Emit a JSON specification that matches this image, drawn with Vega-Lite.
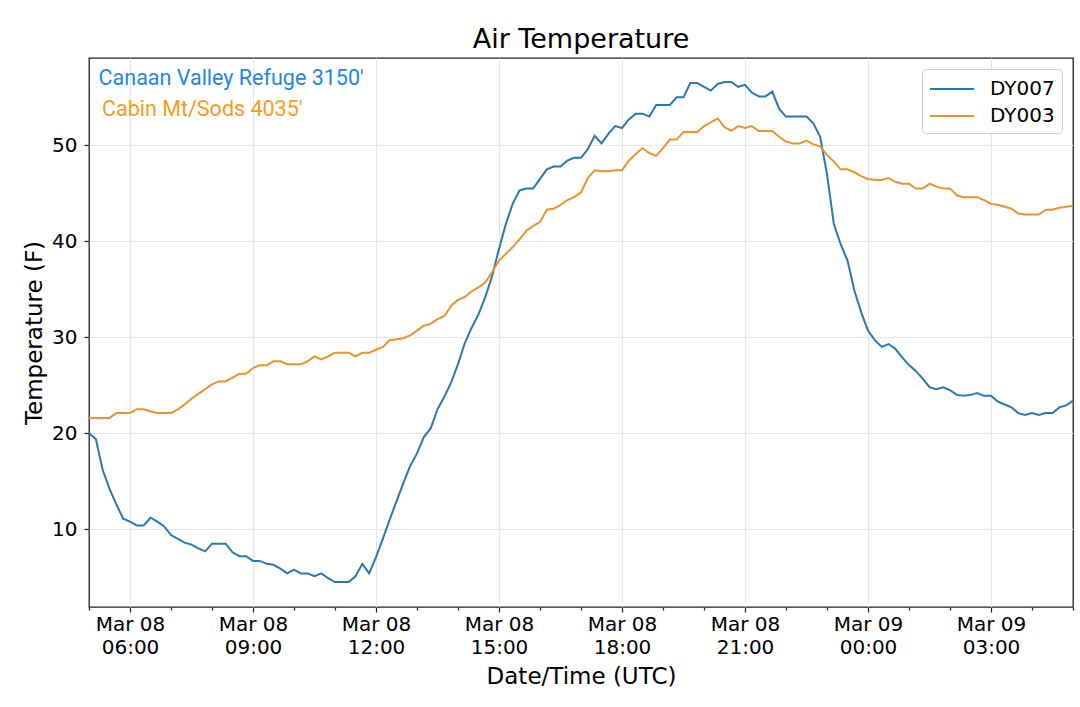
{
  "$schema": "https://vega.github.io/schema/vega-lite/v6.json",
  "width": 984,
  "height": 549,
  "autosize": "none",
  "padding": {"left": 89, "top": 58, "right": 7, "bottom": 100},
  "background": "white",
  "title": {
    "text": "Air Temperature",
    "font": "DejaVu Sans",
    "fontSize": 27,
    "fontWeight": "normal",
    "color": "black",
    "anchor": "middle",
    "offset": 4
  },
  "config": {
    "view": {"stroke": "#222222", "strokeWidth": 1.3},
    "axis": {
      "labelFont": "DejaVu Sans",
      "titleFont": "DejaVu Sans",
      "labelFontSize": 20,
      "titleFontSize": 23,
      "titleFontWeight": "normal",
      "labelColor": "black",
      "titleColor": "black",
      "tickColor": "#222222",
      "tickWidth": 1.2,
      "domain": false,
      "gridColor": "#e6e6e6",
      "gridWidth": 1.1
    }
  },
  "layer": [
    {
      "data": {
        "values": [
          {"time": "2019-03-08T05:00:00Z", "DY007": 20.0, "DY003": 21.6},
          {"time": "2019-03-08T05:10:00Z", "DY007": 19.4, "DY003": 21.6},
          {"time": "2019-03-08T05:20:00Z", "DY007": 16.2, "DY003": 21.6},
          {"time": "2019-03-08T05:30:00Z", "DY007": 14.2, "DY003": 21.6},
          {"time": "2019-03-08T05:40:00Z", "DY007": 12.6, "DY003": 22.1},
          {"time": "2019-03-08T05:50:00Z", "DY007": 11.1, "DY003": 22.1},
          {"time": "2019-03-08T06:00:00Z", "DY007": 10.8, "DY003": 22.1},
          {"time": "2019-03-08T06:10:00Z", "DY007": 10.4, "DY003": 22.5},
          {"time": "2019-03-08T06:20:00Z", "DY007": 10.4, "DY003": 22.5},
          {"time": "2019-03-08T06:30:00Z", "DY007": 11.2, "DY003": 22.3},
          {"time": "2019-03-08T06:40:00Z", "DY007": 10.8, "DY003": 22.1},
          {"time": "2019-03-08T06:50:00Z", "DY007": 10.3, "DY003": 22.1},
          {"time": "2019-03-08T07:00:00Z", "DY007": 9.4, "DY003": 22.1},
          {"time": "2019-03-08T07:10:00Z", "DY007": 9.0, "DY003": 22.5},
          {"time": "2019-03-08T07:20:00Z", "DY007": 8.6, "DY003": 23.0},
          {"time": "2019-03-08T07:30:00Z", "DY007": 8.4, "DY003": 23.6},
          {"time": "2019-03-08T07:40:00Z", "DY007": 8.0, "DY003": 24.1},
          {"time": "2019-03-08T07:50:00Z", "DY007": 7.7, "DY003": 24.6},
          {"time": "2019-03-08T08:00:00Z", "DY007": 8.5, "DY003": 25.1},
          {"time": "2019-03-08T08:10:00Z", "DY007": 8.5, "DY003": 25.4},
          {"time": "2019-03-08T08:20:00Z", "DY007": 8.5, "DY003": 25.4},
          {"time": "2019-03-08T08:30:00Z", "DY007": 7.6, "DY003": 25.8},
          {"time": "2019-03-08T08:40:00Z", "DY007": 7.2, "DY003": 26.2},
          {"time": "2019-03-08T08:50:00Z", "DY007": 7.2, "DY003": 26.2},
          {"time": "2019-03-08T09:00:00Z", "DY007": 6.7, "DY003": 26.8},
          {"time": "2019-03-08T09:10:00Z", "DY007": 6.7, "DY003": 27.1},
          {"time": "2019-03-08T09:20:00Z", "DY007": 6.4, "DY003": 27.1},
          {"time": "2019-03-08T09:30:00Z", "DY007": 6.3, "DY003": 27.5},
          {"time": "2019-03-08T09:40:00Z", "DY007": 5.9, "DY003": 27.5},
          {"time": "2019-03-08T09:50:00Z", "DY007": 5.4, "DY003": 27.2},
          {"time": "2019-03-08T10:00:00Z", "DY007": 5.8, "DY003": 27.2},
          {"time": "2019-03-08T10:10:00Z", "DY007": 5.4, "DY003": 27.2},
          {"time": "2019-03-08T10:20:00Z", "DY007": 5.4, "DY003": 27.5},
          {"time": "2019-03-08T10:30:00Z", "DY007": 5.1, "DY003": 28.0},
          {"time": "2019-03-08T10:40:00Z", "DY007": 5.4, "DY003": 27.7},
          {"time": "2019-03-08T10:50:00Z", "DY007": 4.9, "DY003": 28.0},
          {"time": "2019-03-08T11:00:00Z", "DY007": 4.5, "DY003": 28.4},
          {"time": "2019-03-08T11:10:00Z", "DY007": 4.5, "DY003": 28.4},
          {"time": "2019-03-08T11:20:00Z", "DY007": 4.5, "DY003": 28.4},
          {"time": "2019-03-08T11:30:00Z", "DY007": 5.1, "DY003": 28.0},
          {"time": "2019-03-08T11:40:00Z", "DY007": 6.4, "DY003": 28.4},
          {"time": "2019-03-08T11:50:00Z", "DY007": 5.4, "DY003": 28.4},
          {"time": "2019-03-08T12:00:00Z", "DY007": 7.1, "DY003": 28.7},
          {"time": "2019-03-08T12:10:00Z", "DY007": 9.0, "DY003": 29.0},
          {"time": "2019-03-08T12:20:00Z", "DY007": 11.0, "DY003": 29.7},
          {"time": "2019-03-08T12:30:00Z", "DY007": 12.9, "DY003": 29.8},
          {"time": "2019-03-08T12:40:00Z", "DY007": 14.8, "DY003": 29.9},
          {"time": "2019-03-08T12:50:00Z", "DY007": 16.6, "DY003": 30.2},
          {"time": "2019-03-08T13:00:00Z", "DY007": 17.9, "DY003": 30.7},
          {"time": "2019-03-08T13:10:00Z", "DY007": 19.6, "DY003": 31.2},
          {"time": "2019-03-08T13:20:00Z", "DY007": 20.5, "DY003": 31.4},
          {"time": "2019-03-08T13:30:00Z", "DY007": 22.5, "DY003": 31.9},
          {"time": "2019-03-08T13:40:00Z", "DY007": 23.8, "DY003": 32.2},
          {"time": "2019-03-08T13:50:00Z", "DY007": 25.3, "DY003": 33.3},
          {"time": "2019-03-08T14:00:00Z", "DY007": 27.2, "DY003": 33.9},
          {"time": "2019-03-08T14:10:00Z", "DY007": 29.4, "DY003": 34.2},
          {"time": "2019-03-08T14:20:00Z", "DY007": 31.0, "DY003": 34.8},
          {"time": "2019-03-08T14:30:00Z", "DY007": 32.4, "DY003": 35.2},
          {"time": "2019-03-08T14:40:00Z", "DY007": 34.2, "DY003": 35.7},
          {"time": "2019-03-08T14:50:00Z", "DY007": 36.4, "DY003": 36.8},
          {"time": "2019-03-08T15:00:00Z", "DY007": 39.2, "DY003": 38.0},
          {"time": "2019-03-08T15:10:00Z", "DY007": 41.8, "DY003": 38.7},
          {"time": "2019-03-08T15:20:00Z", "DY007": 43.9, "DY003": 39.4},
          {"time": "2019-03-08T15:30:00Z", "DY007": 45.3, "DY003": 40.2},
          {"time": "2019-03-08T15:40:00Z", "DY007": 45.5, "DY003": 41.1},
          {"time": "2019-03-08T15:50:00Z", "DY007": 45.5, "DY003": 41.6},
          {"time": "2019-03-08T16:00:00Z", "DY007": 46.5, "DY003": 42.0},
          {"time": "2019-03-08T16:10:00Z", "DY007": 47.5, "DY003": 43.3},
          {"time": "2019-03-08T16:20:00Z", "DY007": 47.8, "DY003": 43.4},
          {"time": "2019-03-08T16:30:00Z", "DY007": 47.8, "DY003": 43.8},
          {"time": "2019-03-08T16:40:00Z", "DY007": 48.4, "DY003": 44.3},
          {"time": "2019-03-08T16:50:00Z", "DY007": 48.7, "DY003": 44.6},
          {"time": "2019-03-08T17:00:00Z", "DY007": 48.7, "DY003": 45.1},
          {"time": "2019-03-08T17:10:00Z", "DY007": 49.6, "DY003": 46.6},
          {"time": "2019-03-08T17:20:00Z", "DY007": 51.0, "DY003": 47.4},
          {"time": "2019-03-08T17:30:00Z", "DY007": 50.2, "DY003": 47.3},
          {"time": "2019-03-08T17:40:00Z", "DY007": 51.2, "DY003": 47.3},
          {"time": "2019-03-08T17:50:00Z", "DY007": 52.0, "DY003": 47.4},
          {"time": "2019-03-08T18:00:00Z", "DY007": 51.8, "DY003": 47.4},
          {"time": "2019-03-08T18:10:00Z", "DY007": 52.7, "DY003": 48.4},
          {"time": "2019-03-08T18:20:00Z", "DY007": 53.3, "DY003": 49.1},
          {"time": "2019-03-08T18:30:00Z", "DY007": 53.3, "DY003": 49.7},
          {"time": "2019-03-08T18:40:00Z", "DY007": 53.0, "DY003": 49.2},
          {"time": "2019-03-08T18:50:00Z", "DY007": 54.2, "DY003": 48.9},
          {"time": "2019-03-08T19:00:00Z", "DY007": 54.2, "DY003": 49.7},
          {"time": "2019-03-08T19:10:00Z", "DY007": 54.2, "DY003": 50.6},
          {"time": "2019-03-08T19:20:00Z", "DY007": 55.0, "DY003": 50.6},
          {"time": "2019-03-08T19:30:00Z", "DY007": 55.0, "DY003": 51.4},
          {"time": "2019-03-08T19:40:00Z", "DY007": 56.5, "DY003": 51.4},
          {"time": "2019-03-08T19:50:00Z", "DY007": 56.5, "DY003": 51.4},
          {"time": "2019-03-08T20:00:00Z", "DY007": 56.1, "DY003": 52.0},
          {"time": "2019-03-08T20:10:00Z", "DY007": 55.7, "DY003": 52.4},
          {"time": "2019-03-08T20:20:00Z", "DY007": 56.4, "DY003": 52.8},
          {"time": "2019-03-08T20:30:00Z", "DY007": 56.6, "DY003": 51.9},
          {"time": "2019-03-08T20:40:00Z", "DY007": 56.6, "DY003": 51.5},
          {"time": "2019-03-08T20:50:00Z", "DY007": 56.1, "DY003": 52.0},
          {"time": "2019-03-08T21:00:00Z", "DY007": 56.3, "DY003": 51.8},
          {"time": "2019-03-08T21:10:00Z", "DY007": 55.5, "DY003": 52.0},
          {"time": "2019-03-08T21:20:00Z", "DY007": 55.1, "DY003": 51.5},
          {"time": "2019-03-08T21:30:00Z", "DY007": 55.1, "DY003": 51.5},
          {"time": "2019-03-08T21:40:00Z", "DY007": 55.6, "DY003": 51.5},
          {"time": "2019-03-08T21:50:00Z", "DY007": 53.8, "DY003": 50.9},
          {"time": "2019-03-08T22:00:00Z", "DY007": 53.0, "DY003": 50.4},
          {"time": "2019-03-08T22:10:00Z", "DY007": 53.0, "DY003": 50.2},
          {"time": "2019-03-08T22:20:00Z", "DY007": 53.0, "DY003": 50.2},
          {"time": "2019-03-08T22:30:00Z", "DY007": 53.0, "DY003": 50.5},
          {"time": "2019-03-08T22:40:00Z", "DY007": 52.3, "DY003": 50.1},
          {"time": "2019-03-08T22:50:00Z", "DY007": 50.9, "DY003": 49.9},
          {"time": "2019-03-08T23:00:00Z", "DY007": 47.0, "DY003": 49.0},
          {"time": "2019-03-08T23:10:00Z", "DY007": 41.8, "DY003": 48.3},
          {"time": "2019-03-08T23:20:00Z", "DY007": 39.7, "DY003": 47.5},
          {"time": "2019-03-08T23:30:00Z", "DY007": 38.0, "DY003": 47.5},
          {"time": "2019-03-08T23:40:00Z", "DY007": 34.9, "DY003": 47.2},
          {"time": "2019-03-08T23:50:00Z", "DY007": 32.6, "DY003": 46.8},
          {"time": "2019-03-09T00:00:00Z", "DY007": 30.7, "DY003": 46.5},
          {"time": "2019-03-09T00:10:00Z", "DY007": 29.7, "DY003": 46.4},
          {"time": "2019-03-09T00:20:00Z", "DY007": 29.0, "DY003": 46.4},
          {"time": "2019-03-09T00:30:00Z", "DY007": 29.3, "DY003": 46.6},
          {"time": "2019-03-09T00:40:00Z", "DY007": 28.8, "DY003": 46.2},
          {"time": "2019-03-09T00:50:00Z", "DY007": 27.9, "DY003": 46.0},
          {"time": "2019-03-09T01:00:00Z", "DY007": 27.1, "DY003": 46.0},
          {"time": "2019-03-09T01:10:00Z", "DY007": 26.5, "DY003": 45.5},
          {"time": "2019-03-09T01:20:00Z", "DY007": 25.7, "DY003": 45.5},
          {"time": "2019-03-09T01:30:00Z", "DY007": 24.8, "DY003": 46.0},
          {"time": "2019-03-09T01:40:00Z", "DY007": 24.6, "DY003": 45.7},
          {"time": "2019-03-09T01:50:00Z", "DY007": 24.8, "DY003": 45.5},
          {"time": "2019-03-09T02:00:00Z", "DY007": 24.5, "DY003": 45.5},
          {"time": "2019-03-09T02:10:00Z", "DY007": 24.0, "DY003": 44.8},
          {"time": "2019-03-09T02:20:00Z", "DY007": 23.9, "DY003": 44.6},
          {"time": "2019-03-09T02:30:00Z", "DY007": 24.0, "DY003": 44.6},
          {"time": "2019-03-09T02:40:00Z", "DY007": 24.2, "DY003": 44.6},
          {"time": "2019-03-09T02:50:00Z", "DY007": 23.9, "DY003": 44.3},
          {"time": "2019-03-09T03:00:00Z", "DY007": 23.9, "DY003": 43.9},
          {"time": "2019-03-09T03:10:00Z", "DY007": 23.3, "DY003": 43.8},
          {"time": "2019-03-09T03:20:00Z", "DY007": 23.0, "DY003": 43.6},
          {"time": "2019-03-09T03:30:00Z", "DY007": 22.7, "DY003": 43.4},
          {"time": "2019-03-09T03:40:00Z", "DY007": 22.1, "DY003": 42.9},
          {"time": "2019-03-09T03:50:00Z", "DY007": 21.9, "DY003": 42.8},
          {"time": "2019-03-09T04:00:00Z", "DY007": 22.1, "DY003": 42.8},
          {"time": "2019-03-09T04:10:00Z", "DY007": 21.9, "DY003": 42.8},
          {"time": "2019-03-09T04:20:00Z", "DY007": 22.1, "DY003": 43.3},
          {"time": "2019-03-09T04:30:00Z", "DY007": 22.1, "DY003": 43.3},
          {"time": "2019-03-09T04:40:00Z", "DY007": 22.7, "DY003": 43.5},
          {"time": "2019-03-09T04:50:00Z", "DY007": 22.9, "DY003": 43.6},
          {"time": "2019-03-09T05:00:00Z", "DY007": 23.4, "DY003": 43.7}
        ]
      },
      "transform": [{"fold": ["DY007", "DY003"], "as": ["station", "temp"]}],
      "mark": {"type": "line", "strokeWidth": 2, "interpolate": "linear"},
      "encoding": {
        "x": {
          "field": "time",
          "type": "temporal",
          "scale": {"type": "utc", "domain": [1552021200000, 1552107600000]},
          "axis": {
            "title": "Date/Time (UTC)",
            "titlePadding": 8,
            "values": [1552021200000, 1552024800000, 1552028400000, 1552032000000, 1552035600000, 1552039200000, 1552042800000, 1552046400000, 1552050000000, 1552053600000, 1552057200000, 1552060800000, 1552064400000, 1552068000000, 1552071600000, 1552075200000, 1552078800000, 1552082400000, 1552086000000, 1552089600000, 1552093200000, 1552096800000, 1552100400000, 1552104000000, 1552107600000],
            "labelExpr": "utchours(datum.value) % 3 == 0 ? [utcFormat(datum.value, '%b %d'), utcFormat(datum.value, '%H:%M')] : ''",
            "labelLineHeight": 23.5,
            "labelPadding": 2,
            "labelOverlap": false,
            "labelFlush": false,
            "labelBound": false,
            "tickSize": {"condition": {"test": "utchours(datum.value) % 3 == 0", "value": 5}, "value": 3},
            "gridOpacity": {"condition": {"test": "utchours(datum.value) % 3 == 0", "value": 1}, "value": 0}
          }
        },
        "y": {
          "field": "temp",
          "type": "quantitative",
          "scale": {"domain": [1.9, 59.1], "nice": false, "zero": false},
          "axis": {
            "title": "Temperature (F)",
            "titlePadding": 5,
            "values": [10, 20, 30, 40, 50],
            "tickSize": 5,
            "labelPadding": 7
          }
        },
        "color": {
          "field": "station",
          "type": "nominal",
          "scale": {"domain": ["DY007", "DY003"], "range": ["#2b78b0", "#e8952f"]},
          "legend": {
            "title": null,
            "orient": "top-right",
            "offset": 11,
            "fillColor": "white",
            "strokeColor": "#cccccc",
            "cornerRadius": 4,
            "padding": 7,
            "labelFont": "DejaVu Sans",
            "labelFontSize": 20,
            "labelColor": "black",
            "symbolType": "M-1,0L2.67,0",
            "symbolSize": 576,
            "symbolStrokeWidth": 2,
            "labelOffset": 35,
            "rowPadding": 4
          }
        }
      }
    },
    {
      "data": {"values": [{}]},
      "mark": {"type": "text", "text": "Canaan Valley Refuge 3150'", "font": "Roboto", "fontSize": 21.5, "color": "#1f88e5", "align": "left", "baseline": "alphabetic"},
      "encoding": {
        "x": {"datum": {"year": 2019, "month": 3, "date": 8, "hours": 5, "minutes": 14, "utc": true}, "type": "temporal"},
        "y": {"datum": 56.25, "type": "quantitative"}
      }
    },
    {
      "data": {"values": [{}]},
      "mark": {"type": "text", "text": "Cabin Mt/Sods 4035'", "font": "Roboto", "fontSize": 21.5, "color": "#f39c1f", "align": "left", "baseline": "alphabetic"},
      "encoding": {
        "x": {"datum": {"year": 2019, "month": 3, "date": 8, "hours": 5, "minutes": 19, "utc": true}, "type": "temporal"},
        "y": {"datum": 53.1, "type": "quantitative"}
      }
    }
  ]
}
